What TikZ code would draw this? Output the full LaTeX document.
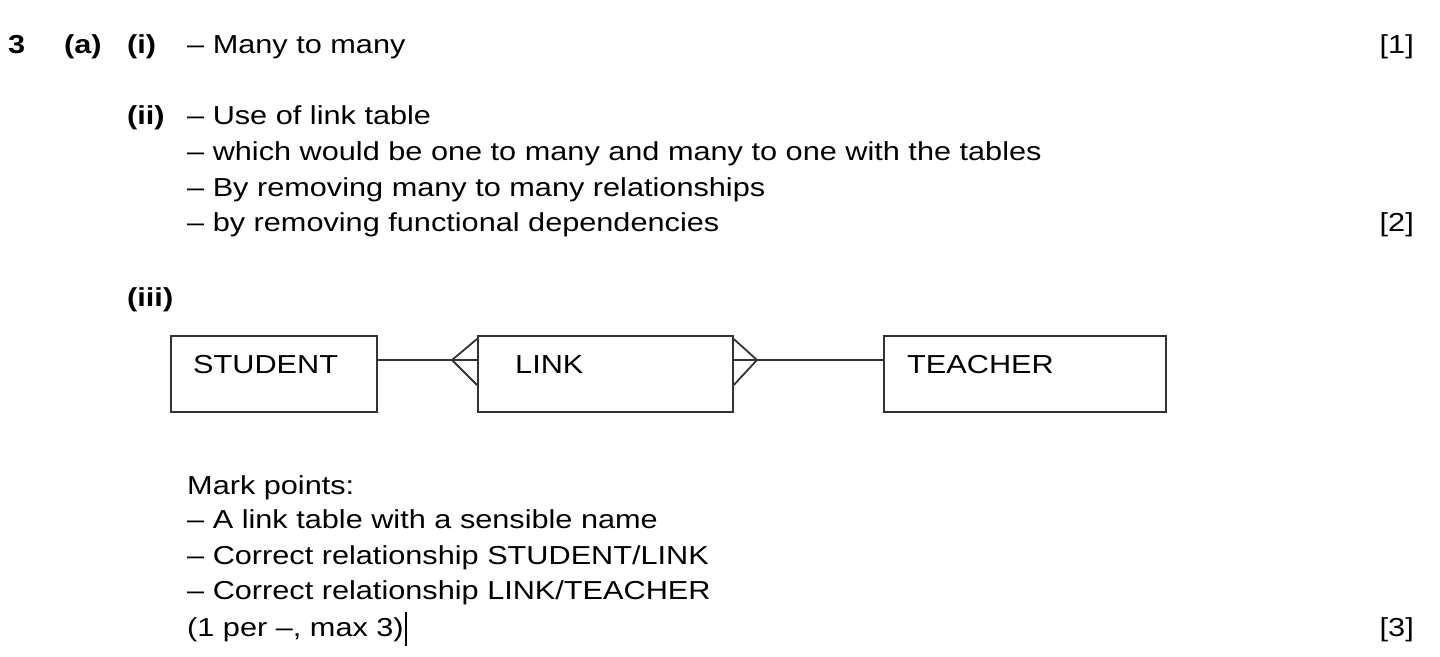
\documentclass[tikz,border=0pt]{standalone}
\usepackage{fontspec}
\setmainfont[FakeStretch=1.18]{Liberation Sans}
\begin{document}
\begin{tikzpicture}[x=1pt,y=-1pt,
  txt/.style={anchor=base west,inner sep=0pt,font=\fontsize{26}{30}\selectfont},
  lbl/.style={txt,font=\fontsize{26}{30}\selectfont\bfseries},
  mk/.style={anchor=base east,inner sep=0pt,font=\fontsize{26}{30}\selectfont},
  ent/.style={draw=black!80,line width=1.8pt,minimum height=76pt,anchor=north west,inner sep=0pt},
  ln/.style={line width=1.8pt,black!80}]
\useasboundingbox (0,0) rectangle (1440,656);
\node[lbl] (n3) at (8,53) {3};
\node[lbl] (na) at (64,53) {(a)};
\node[lbl] (ni) at (127,53) {(i)};
\node[txt] (t1) at (187,53) {– Many to many};
\node[mk] (m1) at (1414,53) {[1]};
\node[lbl] (nii) at (127,124) {(ii)};
\node[txt] (t2) at (187,124) {– Use of link table};
\node[txt] (t3) at (187,160) {– which would be one to many and many to one with the tables};
\node[txt] (t4) at (187,196) {– By removing many to many relationships};
\node[txt] (t5) at (187,231) {– by removing functional dependencies};
\node[mk] (m2) at (1414,231) {[2]};
\node[lbl] (niii) at (127,306) {(iii)};
\node[ent,minimum width=206pt] (stu) at (170,335) {};
\node[ent,minimum width=255pt] (lnk) at (477,335) {};
\node[ent,minimum width=282pt] (tea) at (883,335) {};
\node[txt] at (193,373) {STUDENT};
\node[txt] at (515,373) {LINK};
\node[txt] at (907,373) {TEACHER};
\coordinate (p1) at (452,360);
\coordinate (p2) at (757,360);
\draw[ln] (stu.east |- p1) -- (lnk.west |- p1);
\draw[ln] (lnk.west |- 0,339) -- (p1) -- (lnk.west |- 0,385);
\draw[ln] (lnk.east |- p2) -- (tea.west |- p2);
\draw[ln] (lnk.east |- 0,339) -- (p2) -- (lnk.east |- 0,385);
\node[txt] (u0) at (187,494) {Mark points:};
\node[txt] (u1) at (187,528) {– A link table with a sensible name};
\node[txt] (u2) at (187,564) {– Correct relationship STUDENT/LINK};
\node[txt] (u3) at (187,599) {– Correct relationship LINK/TEACHER};
\node[txt] (u4) at (187,636) {(1 per –, max 3)};
\draw[line width=1.2pt] (u4.east |- 0,612) ++(2,0) -- ++(0,34);
\node[mk] (m3) at (1414,636) {[3]};
\end{tikzpicture}
\end{document}
